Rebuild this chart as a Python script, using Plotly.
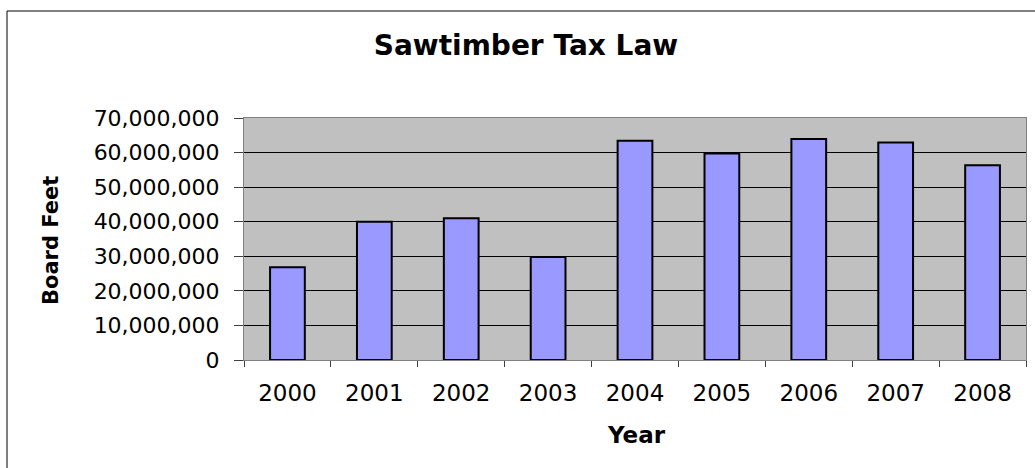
import plotly.graph_objects as go

years = ["2000", "2001", "2002", "2003", "2004", "2005", "2006", "2007", "2008"]
board_feet = [26800000, 40000000, 41000000, 29800000, 63400000, 59700000, 63900000, 62900000, 56300000]
y_ticks = [0, 10000000, 20000000, 30000000, 40000000, 50000000, 60000000, 70000000]
y_tick_text = ["0", "10,000,000", "20,000,000", "30,000,000", "40,000,000",
               "50,000,000", "60,000,000", "70,000,000"]

L, R, T, B = 244, 1026, 118, 360
W, H = 1035, 468
FONT = "DejaVu Sans, Arial, sans-serif"

def px(x):
    return (x - L) / (R - L)

def py(y):
    return (B - y) / (B - T)

fig = go.Figure(go.Bar(
    x=years, y=board_feet,
    marker=dict(color="#9999FF", line=dict(color="black", width=2)),
    width=0.4,
))

fig.update_layout(
    width=W, height=H,
    margin=dict(l=L, r=W - R, t=T, b=H - B),
    paper_bgcolor="white",
    plot_bgcolor="#C0C0C0",
    showlegend=False,
    font=dict(family=FONT, color="black"),
    title=dict(text="<b>Sawtimber Tax Law</b>", x=526 / W, xanchor="center",
               y=1 - 45 / H, yanchor="middle", font=dict(size=28, color="black")),
    xaxis=dict(
        type="category", tickson="boundaries", ticks="outside", ticklen=6,
        tickcolor="#404040", tickfont=dict(size=23), showgrid=False,
        showline=True, linecolor="#808080", linewidth=1, mirror=True,
        ticklabelstandoff=12,
    ),
    yaxis=dict(
        range=[0, 70000000], tickvals=y_ticks, ticktext=y_tick_text,
        ticks="outside", ticklen=9, tickcolor="#404040", tickfont=dict(size=22),
        showgrid=True, gridcolor="black", gridwidth=1,
        showline=True, linecolor="#808080", linewidth=1, mirror=True,
        ticklabelstandoff=10, zeroline=False,
    ),
    annotations=[
        dict(text="<b>Board Feet</b>", xref="paper", yref="paper",
             x=px(51), y=py(241), xanchor="center", yanchor="middle",
             textangle=-90, showarrow=False, font=dict(size=21, color="black")),
        dict(text="<b>Year</b>", xref="paper", yref="paper",
             x=px(636), y=py(435), xanchor="center", yanchor="middle",
             showarrow=False, font=dict(size=23, color="black")),
    ],
    shapes=[
        dict(type="rect", xref="paper", yref="paper",
             x0=px(7), x1=px(1045), y0=py(478), y1=py(11),
             line=dict(color="black", width=1), fillcolor="rgba(0,0,0,0)",
             layer="below"),
    ],
)

fig.write_html("out.html")
